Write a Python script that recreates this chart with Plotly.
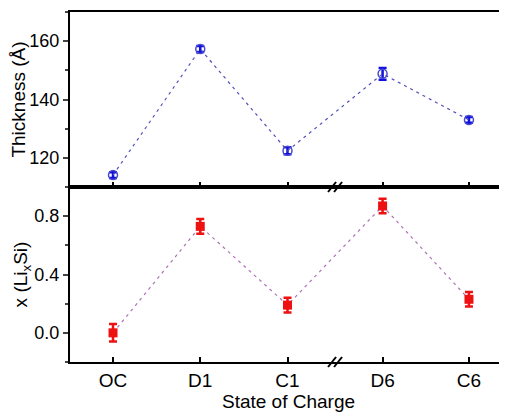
import plotly.graph_objects as go

states = ["OC", "D1", "C1", "D6", "C6"]
thickness = [114.1, 157.3, 122.4, 148.8, 133.0]
thickness_err = [1.0, 1.0, 1.2, 2.0, 1.0]
x_lisi = [0.0, 0.73, 0.19, 0.87, 0.23]
x_lisi_err = [0.06, 0.05, 0.05, 0.05, 0.05]

# horizontal placement (a small extra gap for the axis break between C1 and D6)
x_pos = [0, 1, 2, 3.09, 4.08]
break_x = 2.545

font = dict(family="Liberation Sans, Arial, sans-serif", color="black")

fig = go.Figure()
fig.add_trace(go.Scatter(
    x=x_pos, y=thickness, xaxis="x2", yaxis="y2",
    mode="lines+markers",
    line=dict(color="#5050b8", width=1.2, dash="3px,4px"),
    marker=dict(symbol="circle-open", size=9, color="#4a4ad0", line=dict(width=1.5, color="#5a5ad8")),
    error_y=dict(type="data", array=thickness_err, color="#1010e0", thickness=2.5, width=4),
    showlegend=False,
))
fig.add_trace(go.Scatter(
    x=x_pos, y=x_lisi, xaxis="x", yaxis="y",
    mode="lines+markers",
    line=dict(color="#b070b8", width=1.2, dash="3px,4px"),
    marker=dict(symbol="square", size=9, color="#ee1111"),
    error_y=dict(type="data", array=x_lisi_err, color="#ee1111", thickness=2.5, width=4),
    showlegend=False,
))

xr = [-0.493, 4.516]
common_x = dict(range=xr, showline=True, linecolor="black", linewidth=2, ticks="inside",
                ticklen=5, tickwidth=1.5, tickcolor="black", showgrid=False, zeroline=False,
                tickvals=x_pos, ticktext=states, automargin=False)
fig.update_layout(
    width=499, height=404,
    margin=dict(l=62, r=0, t=4, b=50),
    paper_bgcolor="white", plot_bgcolor="white",
    font=dict(size=16, **font),
    xaxis=dict(**common_x, domain=[0, 1], anchor="y", mirror=True,
               tickfont=dict(size=19, **font),
               title=dict(text="State of Charge", font=dict(size=19, **font), standoff=0)),
    xaxis2=dict(**common_x, domain=[0, 1], anchor="y2", mirror=True, showticklabels=False),
    yaxis=dict(domain=[0, 0.5], range=[-0.2, 1.0], tickvals=[0.0, 0.4, 0.8], ticktext=["0.0", "0.4", "0.8"],
               showline=True, linecolor="black", linewidth=2, ticks="outside", ticklen=5, tickwidth=1.5,
               minor=dict(tickvals=[-0.2, 0.2, 0.6, 1.0], ticks="outside", ticklen=3, tickwidth=1.5),
               showgrid=False, zeroline=False, tickfont=dict(size=18, **font), automargin=False,
               title=dict(text="x (Li<sub>x</sub>Si)", font=dict(size=19, **font), standoff=0)),
    yaxis2=dict(domain=[0.5, 1], range=[110, 170], tickvals=[120, 140, 160],
                showline=True, linecolor="black", linewidth=2, ticks="outside", ticklen=5, tickwidth=1.5,
                minor=dict(tickvals=[110, 130, 150, 170], ticks="outside", ticklen=3, tickwidth=1.5),
                showgrid=False, zeroline=False, tickfont=dict(size=18, **font), automargin=False,
                title=dict(text="Thickness (Å)", font=dict(size=19, **font), standoff=4)),
)

shapes = []
for yp in [0.0, 0.5]:
    for dx in [-3, 3]:
        shapes.append(dict(type="line", xref="x", yref="paper", xsizemode="pixel", ysizemode="pixel",
                           xanchor=break_x, yanchor=yp, x0=dx - 4, x1=dx + 4, y0=-5, y1=5,
                           line=dict(color="black", width=2)))
fig.update_layout(shapes=shapes)

fig.write_html("out.html",
               post_script="document.documentElement.style.overflow='hidden';document.body.style.overflow='hidden';")
